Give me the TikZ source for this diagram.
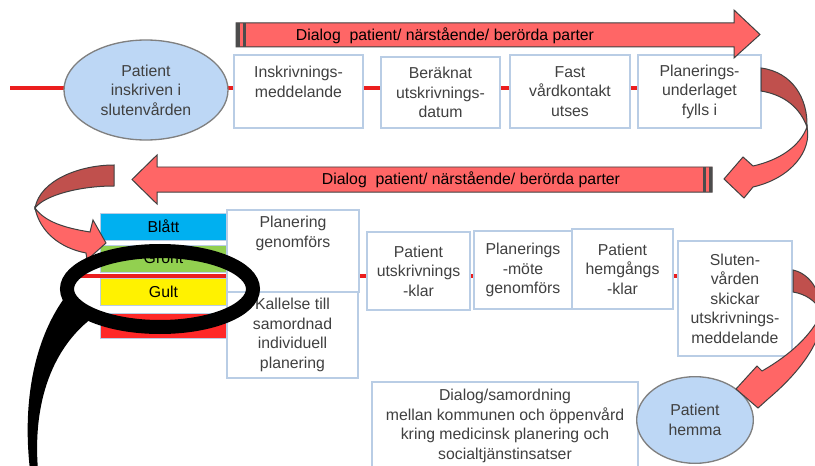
\documentclass[tikz,border=0pt]{standalone}
\usepackage{fontspec}
\setmainfont{Liberation Sans}
\usetikzlibrary{shapes,backgrounds}
\tikzset{>=stealth}
\definecolor{boxline}{RGB}{185,205,229}
\definecolor{txtgray}{RGB}{64,64,64}
\definecolor{arrowred}{RGB}{255,102,102}
\definecolor{arrowdark}{RGB}{192,80,77}
\definecolor{ellfill}{RGB}{189,215,245}
\definecolor{blatt}{RGB}{0,176,240}
\definecolor{gront}{RGB}{146,208,80}
\definecolor{rott}{RGB}{255,40,40}
\definecolor{procred}{RGB}{235,30,30}
\tikzset{
  every node/.style={font=\fontsize{13.5}{16.6}\selectfont, text=txtgray, align=center, inner sep=0pt},
  box/.style={draw=boxline, line width=0.45mm, fill=white},
  patell/.style={ellipse, draw=gray, line width=0.4mm, fill=ellfill},
  colbox/.style={draw=boxline, line width=0.3mm, text=black, minimum width=38.1mm},
  blockarrow/.style={draw=black!75, line width=0.3mm, fill=arrowred},
  twist/.style={draw=black!75, line width=0.3mm, fill=arrowdark},
  procline/.style={draw=procred, line width=1.2mm},
}
\begin{document}
\begin{tikzpicture}[x=0.3mm,y=-0.3mm]
\useasboundingbox (0,0) rectangle (815,466);
\clip (0,0) rectangle (815,466);

% first row
\draw (146,90) node (patin) [patell, minimum width=49.2mm, minimum height=30mm] {Patient\\inskriven i\\slutenvården};
\draw (298.5,91.5) node (insk) [box, minimum width=38.7mm, minimum height=21.9mm] {Inskrivnings-\\meddelande\\\mbox{}};
\draw (440.5,92.5) node (berak) [box, minimum width=35.7mm, minimum height=21.3mm] {Beräknat\\utskrivnings-\\datum};
\draw (570,91.5) node (fast) [box, minimum width=36mm, minimum height=21.9mm] {Fast\\vårdkontakt\\utses};
\draw (699.5,91.5) node (plund) [box, minimum width=36.9mm, minimum height=21.9mm] {Planerings-\\underlaget\\fylls i};

% second row
\draw (163.5,226.5) node (blatt) [colbox, fill=blatt, minimum height=8.1mm] {Blått};
\draw (163.5,258.5) node (gront) [colbox, fill=gront, minimum height=8.1mm] {Grönt};
\draw (163.5,291.5) node (gult) [colbox, fill=yellow, minimum height=8.1mm] {Gult};
\draw (163.5,325.5) node (rott) [colbox, fill=rott, minimum height=7.5mm] {};
\draw (293,251) node (plgen) [box, minimum width=39.6mm, minimum height=24.6mm] {Planering\\genomförs\\\mbox{}\\\mbox{}};
\draw (292.5,335) node (kall) [box, minimum width=39.3mm, minimum height=25.8mm] {Kallelse till\\samordnad\\individuell\\planering};
\draw (418.5,271) node (putsk) [box, minimum width=30.9mm, minimum height=23.4mm] {Patient\\utskrivnings\\-klar};
\draw (523,270) node (pmote) [box, minimum width=29.4mm, minimum height=23.4mm] {Planerings\\-möte\\genomförs};
\draw (622.5,269) node (phem) [box, minimum width=30.3mm, minimum height=24mm] {Patient\\hemgångs\\-klar};
\draw (735,298.5) node (slut) [box, minimum width=34.2mm, minimum height=34.5mm] {Sluten-\\vården\\skickar\\utskrivnings-\\meddelande};

% third row
\draw (505,426) node (dial) [box, minimum width=79.8mm, minimum height=26.4mm] {Dialog/samordning\\mellan kommunen och öppenvård\\kring medicinsk planering och\\socialtjänstinsatser};
\draw (695,420) node (hemma) [patell, minimum width=35mm, minimum height=26mm] {Patient\\hemma};

% red process lines
\coordinate (lstart1) at (10,88);
\coordinate (lstart2) at (80,276);
\begin{scope}[on background layer]
\draw[procline] (lstart1) -- (lstart1 -| plund.center);
\draw[procline] (lstart2) -- (lstart2 -| slut.center);
\end{scope}

% dialog arrows
\draw[blockarrow] (236,23) -- (734,23) -- (734,10) -- (760,34.5) -- (734,58) -- (734,47) -- (236,47) -- cycle;
\fill[black!70] (236,23) rectangle (240,47);
\fill[black!70] (243,23) rectangle (245.5,47);
\draw (445,35.5) node (dlg1) [text=black] {Dialog~~patient/ närstående/ berörda parter};

\draw[blockarrow] (712,167) -- (157,167) -- (157,155) -- (132,179.5) -- (157,204) -- (157,192) -- (712,192) -- cycle;
\fill[black!70] (703,167) rectangle (706,192);
\fill[black!70] (708.5,167) rectangle (712,192);
\draw (471,180) node (dlg2) [text=black] {Dialog~~patient/ närstående/ berörda parter};

% curved arrows
\draw[twist] (761,68) .. controls (792,72) and (808,98) .. (807,127) .. controls (800,108) and (785,95) .. (761,91) -- cycle;
\draw[blockarrow] (807,127) .. controls (812,150) and (792,178) .. (753,187) -- (744,198) -- (724,179) -- (743,157) -- (753,166) .. controls (780,160) and (800,146) .. (807,127) -- cycle;

\draw[twist] (114,165) .. controls (80,165) and (40,180) .. (35,208) .. controls (45,195) and (80,186) .. (114,186) -- cycle;
\draw[blockarrow] (35,208) .. controls (40,232) and (60,248) .. (86,253) -- (87,260) -- (106,243) -- (93,220) -- (90,232) .. controls (65,228) and (45,222) .. (35,208) -- cycle;

\draw[twist] (793,270) .. controls (810,274) and (820,290) .. (822,312) .. controls (815,300) and (805,294) .. (793,292) -- cycle;
\draw[blockarrow] (822,312) .. controls (824,340) and (800,372) .. (768,399) -- (758,408) -- (736,389) -- (757,366) -- (762,371) .. controls (790,355) and (812,335) .. (822,312) -- cycle;

% black loop
\draw[line width=4.2mm] (160,289) ellipse [x radius=27.9mm, y radius=11.4mm];
\fill (63,300) .. controls (35,340) and (22,400) .. (30,470) -- (38,470) .. controls (33,410) and (48,352) .. (92,318) -- cycle;
\end{tikzpicture}
\end{document}
